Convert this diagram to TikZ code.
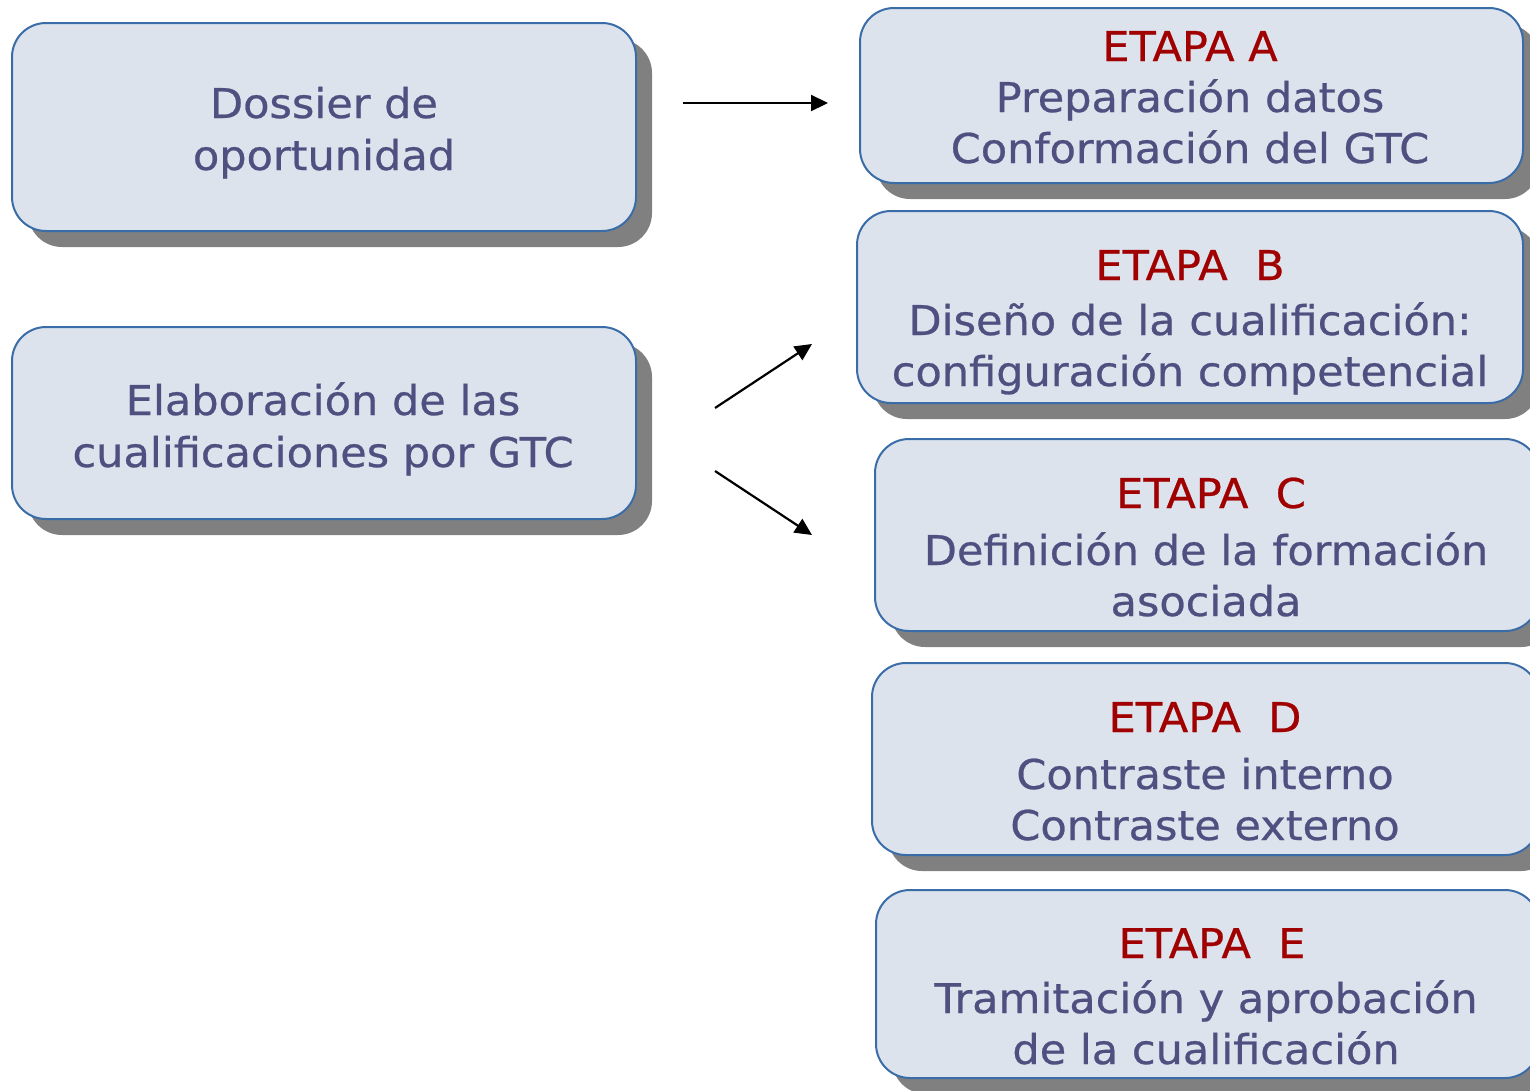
\documentclass[tikz,border=0pt]{standalone}
\usepackage{fontspec}
\setmainfont[FakeStretch=1.05,FakeBold=0.6]{DejaVu Sans}
\usetikzlibrary{arrows.meta,shadows}
\definecolor{boxfill}{RGB}{220,227,237}
\definecolor{boxline}{RGB}{58,108,168}
\definecolor{shadowgray}{RGB}{128,128,128}
\definecolor{txtblue}{RGB}{80,80,128}
\definecolor{txtred}{RGB}{160,0,0}
\begin{document}
\begin{tikzpicture}[x=1pt,y=-1pt,
  stagebox/.style={draw=boxline, line width=2pt, fill=boxfill, rounded corners=34pt,
    inner sep=0pt, outer sep=0pt,
    general shadow={fill=shadowgray, shadow xshift=16pt, shadow yshift=-16pt}},
  bodytxt/.style={anchor=base, inner sep=0pt, text=txtblue, font=\fontsize{41pt}{51pt}\selectfont},
  etapatxt/.style={anchor=base, inner sep=0pt, text=txtred, font=\fontsize{41pt}{51pt}\selectfont},
  arr/.style={line width=2.2pt, -{Triangle[length=17pt,width=16pt]}}]
\useasboundingbox (0,0) rectangle (1530,1090);
% boxes
\node[stagebox, minimum width=624pt, minimum height=208pt] (box1) at (324,127) {};
\node[stagebox, minimum width=624pt, minimum height=192pt] (box2) at (324,423) {};
\node[stagebox, minimum width=663pt, minimum height=175pt] (ea) at (1191.5,95.5) {};
\node[stagebox, minimum width=666pt, minimum height=192pt] (eb) at (1190,307) {};
\node[stagebox, minimum width=664pt, minimum height=192pt] (ec) at (1207,535) {};
\node[stagebox, minimum width=667pt, minimum height=192pt] (ed) at (1205.5,759) {};
\node[stagebox, minimum width=663pt, minimum height=188pt] (ee) at (1207.5,984) {};
% texts
\node[bodytxt] (b1l1) at (324,118) {Dossier de};
\node[bodytxt] (b1l2) at (324,170) {oportunidad};
\node[bodytxt] (b2l1) at (323,415) {Elaboración de las};
\node[bodytxt] (b2l2) at (323,467) {cualificaciones por GTC};
\node[etapatxt] (eal1) at (1190,61) {ETAPA A};
\node[bodytxt] (eal2) at (1190,112) {Preparación datos};
\node[bodytxt] (eal3) at (1190,163) {Conformación del GTC};
\node[etapatxt] (ebl1) at (1190,280) {ETAPA\ \ B};
\node[bodytxt] (ebl2) at (1190,335) {Diseño de la cualificación:};
\node[bodytxt] (ebl3) at (1190,386) {configuración competencial};
\node[etapatxt] (ecl1) at (1211,508) {ETAPA\ \ C};
\node[bodytxt] (ecl2) at (1206,565) {Definición de la formación};
\node[bodytxt] (ecl3) at (1206,616) {asociada};
\node[etapatxt] (edl1) at (1205,732) {ETAPA\ \ D};
\node[bodytxt] (edl2) at (1205,789) {Contraste interno};
\node[bodytxt] (edl3) at (1205,840) {Contraste externo};
\node[etapatxt] (eel1) at (1212,958) {ETAPA\ \ E};
\node[bodytxt] (eel2) at (1206,1013) {Tramitación y aprobación};
\node[bodytxt] (eel3) at (1206,1064) {de la cualificación};
% arrows
\coordinate (a1s) at (683,103);
\coordinate (a1e) at (828,103);
\coordinate (a2s) at (715,408);
\coordinate (a2e) at (812,344);
\coordinate (a3s) at (715,471);
\coordinate (a3e) at (812,535);
\draw[arr] (a1s) -- (a1e);
\draw[arr] (a2s) -- (a2e);
\draw[arr] (a3s) -- (a3e);
\end{tikzpicture}
\end{document}
